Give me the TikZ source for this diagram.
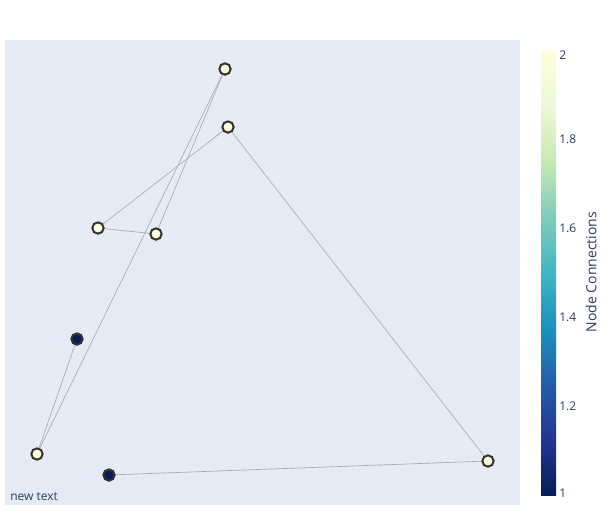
\documentclass[tikz,border=0pt]{standalone}
\usepackage{fontspec}
\setmainfont{Open Sans}
\definecolor{plotbg}{RGB}{229,236,246}
\definecolor{txt}{RGB}{42,63,95}
\definecolor{edgec}{RGB}{170,170,178}
\definecolor{nodeline}{RGB}{50,50,50}
\definecolor{cA}{RGB}{8,29,88}
\definecolor{cB}{RGB}{37,52,148}
\definecolor{cC}{RGB}{34,94,168}
\definecolor{cD}{RGB}{29,145,192}
\definecolor{cE}{RGB}{65,182,196}
\definecolor{cF}{RGB}{127,205,187}
\definecolor{cG}{RGB}{199,233,180}
\definecolor{cH}{RGB}{237,248,217}
\definecolor{cI}{RGB}{255,255,217}
\pgfdeclareverticalshading{ylgnbu}{100bp}{color(0bp)=(cA); color(25bp)=(cA); color(31.25bp)=(cB); color(37.5bp)=(cC); color(43.75bp)=(cD); color(50bp)=(cE); color(56.25bp)=(cF); color(62.5bp)=(cG); color(68.75bp)=(cH); color(75bp)=(cI); color(100bp)=(cI)}
\pgfdeclarelayer{bglayer}
\pgfdeclarelayer{edgelayer}
\pgfsetlayers{bglayer,edgelayer,main}
\tikzset{
  netnode/.style={circle, draw=nodeline, line width=1.5pt, minimum size=8.5pt, inner sep=0pt},
  hi/.style={netnode, fill=cI},
  lo/.style={netnode, fill=cA},
  link/.style={draw=edgec, line width=0.5pt},
  lbl/.style={text=txt, font=\fontsize{9}{10}\selectfont, inner sep=0pt},
}
\begin{document}
\begin{tikzpicture}[x=0.75pt, y=-0.75pt]
\useasboundingbox (0,0) rectangle (613,525);
\begin{pgfonlayer}{bglayer}
\fill[white] (0,0) rectangle (613,525);
\fill[plotbg] (5,40) rectangle (520,505);
\end{pgfonlayer}
% nodes
\node[hi] (a) at (225,69) {};
\node[hi] (b) at (228,127) {};
\node[hi] (c) at (98,228) {};
\node[hi] (d) at (156,234) {};
\node[lo] (e) at (77,339) {};
\node[hi] (f) at (37,454) {};
\node[lo] (g) at (109,475) {};
\node[hi] (h) at (488,461) {};
% edges
\begin{pgfonlayer}{edgelayer}
\path[link] (a.center) -- (d.center);
\path[link] (a.center) -- (f.center);
\path[link] (b.center) -- (c.center);
\path[link] (b.center) -- (h.center);
\path[link] (c.center) -- (d.center);
\path[link] (e.center) -- (f.center);
\path[link] (g.center) -- (h.center);
\end{pgfonlayer}
% text
\node[lbl, anchor=west] (nt) at (10,497) {new text};
% colorbar
\shade[shading=ylgnbu] (541,495) rectangle (556,50);
\node[lbl, anchor=west] (t2) at (559,55) {2};
\node[lbl, anchor=west] (t18) at (559,139) {1.8};
\node[lbl, anchor=west] (t16) at (559,228) {1.6};
\node[lbl, anchor=west] (t14) at (559,317) {1.4};
\node[lbl, anchor=west] (t12) at (559,406) {1.2};
\node[lbl, anchor=west] (t1) at (559,493) {1};
\node[lbl, rotate=90, font=\fontsize{10.5}{12}\selectfont] (ttl) at (591,272) {Node Connections};
\end{tikzpicture}
\end{document}
